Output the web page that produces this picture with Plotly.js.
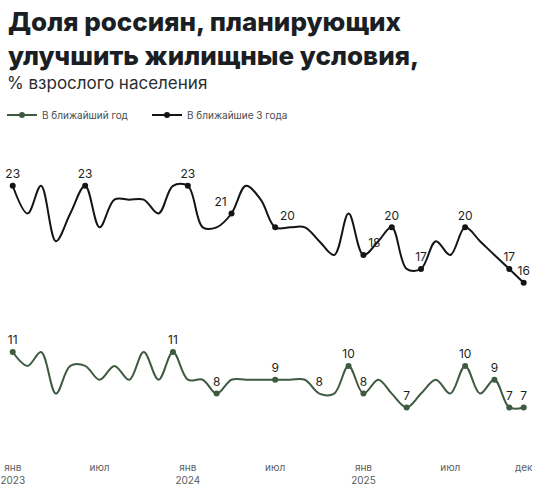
<!DOCTYPE html>
<html>
<head>
<meta charset="utf-8">
<script src="https://cdn.plot.ly/plotly-3.0.1.min.js"></script>
<style>
html,body{margin:0;padding:0;background:#fff;}
#chart{width:550px;height:494px;}
</style>
</head>
<body>
<div id="chart"></div>
<script>
// Monthly survey dates, Jan 2023 – Dec 2025
const months = [
  '2023-01-01','2023-02-01','2023-03-01','2023-04-01','2023-05-01','2023-06-01',
  '2023-07-01','2023-08-01','2023-09-01','2023-10-01','2023-11-01','2023-12-01',
  '2024-01-01','2024-02-01','2024-03-01','2024-04-01','2024-05-01','2024-06-01',
  '2024-07-01','2024-08-01','2024-09-01','2024-10-01','2024-11-01','2024-12-01',
  '2025-01-01','2025-02-01','2025-03-01','2025-04-01','2025-05-01','2025-06-01',
  '2025-07-01','2025-08-01','2025-09-01','2025-10-01','2025-11-01','2025-12-01'
];
// "В ближайшие 3 года"
const threeYears = [23,21,23,19,21,23,20,22,22,22,21,23,23,20,20,21,23,22,20,20,20,19,18,21,18,19,20,17,17,19,18,20,19,18,17,16];
// "В ближайший год"
const oneYear = [11,10,11,8,10,10,9,10,9,11,9,11,9,9,8,9,9,9,9,9,9,8,8,10,8,9,8,7,8,9,8,10,8,9,7,7];

// indices of labelled points
const threeYearsLabelled = [0,5,12,15,18,24,26,28,31,34,35];
const oneYearLabelled = [0,11,14,18,21,23,24,27,31,33,34,35];
const oneYearNoMarker = [21];

const tickVals = ['2023-01-01','2023-07-01','2024-01-01','2024-07-01','2025-01-01','2025-07-01','2025-12-01'];
const tickText = ['янв<br>2023','июл','янв<br>2024','июл','янв<br>2025','июл','дек'];

const seriesNames = ['В ближайший год','В ближайшие 3 года'];
const titleText = 'Доля россиян, планирующих<br>улучшить жилищные условия,';
const subtitleText = '% взрослого населения';

const colBlack = '#121417';
const colGreen = '#3e5a41';
const FONT = 'Inter, "Noto Sans", sans-serif';

const posOverride3 = {15:'top left', 18:'top right', 24:'top right'};

function build(values, labelled, color, posOverride, noMarker) {
  const text = values.map((v,i)=> labelled.includes(i) ? String(v) : '');
  const mcol = values.map((v,i)=> (labelled.includes(i) && !(noMarker||[]).includes(i)) ? color : 'rgba(0,0,0,0)');
  const pos = values.map((v,i)=> (posOverride && posOverride[i]) ? posOverride[i] : 'top center');
  return {text, mcol, pos};
}

const b3 = build(threeYears, threeYearsLabelled, colBlack, posOverride3);
const b1 = build(oneYear, oneYearLabelled, colGreen, null, oneYearNoMarker);

const labelFont = {family:FONT, size:12, color:'#1c1f22'};

const traces = [
  {
    x: months, y: oneYear, name: seriesNames[0], type:'scatter', mode:'lines+markers+text',
    line:{color:colGreen, width:2, shape:'spline', smoothing:1},
    marker:{size:6, color:b1.mcol},
    text:b1.text, textposition:b1.pos, textfont:labelFont,
    cliponaxis:false, hoverinfo:'x+y'
  },
  {
    x: months, y: threeYears, name: seriesNames[1], type:'scatter', mode:'lines+markers+text',
    line:{color:colBlack, width:2, shape:'spline', smoothing:1},
    marker:{size:6, color:b3.mcol},
    text:b3.text, textposition:b3.pos, textfont:labelFont,
    cliponaxis:false, hoverinfo:'x+y'
  }
];

const M = {l:8, r:16, t:165, b:45};
const plotH = 494 - M.t - M.b;
const plotW = 550 - M.l - M.r;
function py(px) { return 1 + (M.t - px) / plotH; } // pixel row -> paper y
function pxX(px) { return (px - M.l) / plotW; }    // pixel col -> paper x

const layout = {
  width:550, height:494,
  paper_bgcolor:'#ffffff', plot_bgcolor:'#ffffff',
  margin:{l:M.l, r:M.r, t:M.t, b:M.b, pad:0, autoexpand:false},
  showlegend:true,
  legend:{
    orientation:'h', x:pxX(2), xanchor:'left', y:py(115), yanchor:'middle',
    font:{family:FONT, size:10, color:'#4a4d50'},
    entrywidth:100, entrywidthmode:'pixels', traceorder:'normal',
    bgcolor:'rgba(0,0,0,0)'
  },
  annotations:[
    {
      text:titleText, xref:'paper', yref:'paper', x:pxX(6), y:py(4),
      xanchor:'left', yanchor:'top', align:'left', showarrow:false,
      font:{family:FONT, size:26, weight:800, color:'#1b1f23'}
    },
    {
      text:subtitleText, xref:'paper', yref:'paper', x:pxX(5), y:py(95),
      xanchor:'left', yanchor:'bottom', showarrow:false,
      font:{family:FONT, size:17, color:'#2a2d30'}
    }
  ],
  xaxis:{
    type:'date',
    range:['2022-12-22 04:00','2025-12-22 12:00'],
    tickmode:'array', tickvals:tickVals, ticktext:tickText,
    showgrid:false, zeroline:false, showline:false,
    ticks:'outside', ticklen:9, tickcolor:'rgba(0,0,0,0)',
    tickfont:{family:FONT, size:10, color:'#5a5d60'}
  },
  yaxis:{
    range:[4, 24.5],
    showgrid:false, zeroline:false, showline:false, showticklabels:false, ticks:''
  }
};

Plotly.newPlot('chart', traces, layout, {displayModeBar:false, staticPlot:true});
</script>
</body>
</html>
